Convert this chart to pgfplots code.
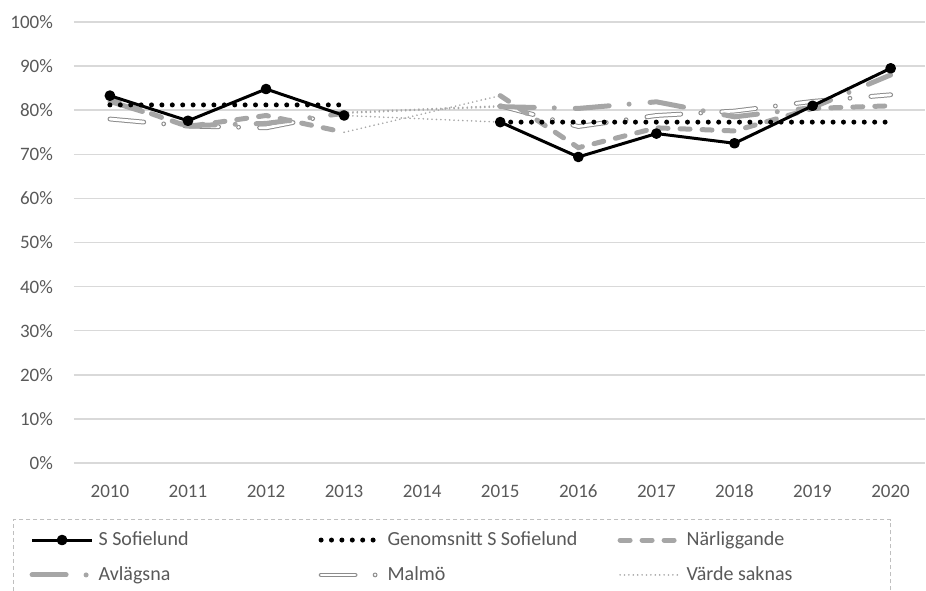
\documentclass[border=0pt]{standalone}
\usepackage{fontspec}
\setmainfont{Carlito}
\usepackage{pgfplots}
\usepackage{pgfplotstable}
\pgfplotsset{compat=1.18}
\definecolor{gridc}{HTML}{D9D9D9}
\definecolor{lg}{HTML}{A6A6A6}
\definecolor{mg}{HTML}{8C8C8C}
\definecolor{txt}{HTML}{595959}
\definecolor{legb}{HTML}{BFBFBF}

\pgfplotstableread{
year sof  gen  nar  avl  mal
2010 83.3 81.2 82.5 82.0 78.0
2011 77.6 81.2 76.3 76.5 76.4
2012 84.8 81.2 78.8 77.0 76.0
2013 78.8 81.2 75.0 79.3 79.5
2014 nan  nan  nan  nan  nan
2015 77.3 77.3 83.3 80.8 81.0
2016 69.4 77.3 71.5 80.4 76.3
2017 74.7 77.3 76.0 81.9 78.8
2018 72.5 77.3 75.3 78.5 79.8
2019 81.0 77.3 80.4 80.6 82.0
2020 89.5 77.3 81.0 88.0 83.5
}\data

\pgfplotstableread{
year sof  nar  avl  mal
2013 78.8 75.0 79.3 79.5
2015 77.3 83.3 80.8 81.0
}\gap

\tikzset{
  sofst/.style={black, line width=1.5pt, solid, line join=round, mark=*, mark size=1.9pt, mark options={solid, fill=black}},
  genst/.style={black, line width=2.5pt, dash pattern=on 0pt off 5.2pt, line cap=round},
  narst/.style={lg, line width=2.5pt, dash pattern=on 5pt off 6pt, line cap=round},
  avlst/.style={lg, line width=2.5pt, dash pattern=on 17pt off 10pt on 0pt off 10.5pt, line cap=round},
  malst/.style={mg, line width=0.5pt, double=white, double distance=1.4pt, dash pattern=on 17pt off 10pt on 0pt off 10.5pt, line cap=round},
  vsst/.style={lg, line width=0.9pt, dash pattern=on 0pt off 2.2pt, line cap=round},
}

\begin{document}
\begin{tikzpicture}
\useasboundingbox (-37pt,-63.5pt) rectangle (426pt,231.5pt);
\begin{axis}[
  at={(0,0)}, anchor=south west,
  scale only axis, width=425.5pt, height=220.5pt,
  xmin=2009.54, xmax=2020.44, ymin=0, ymax=100,
  xtick={2010,...,2020}, ytick={0,10,...,100},
  xticklabels={2010,2011,2012,2013,2014,2015,2016,2017,2018,2019,2020},
  axis line style={draw=none}, major tick length=0pt,
  ymajorgrids, grid style={gridc, line width=0.75pt},
  /pgf/number format/assume math mode=true,
  /pgf/number format/1000 sep={},
  yticklabel={\pgfmathprintnumber{\tick}\%},
  ticklabel style={font=\fontsize{9.5}{11}\selectfont, text=txt},
  yticklabel style={xshift=-7pt},
  xticklabel style={yshift=-6pt, text height=1.6ex, text depth=0pt},
  unbounded coords=jump,
  clip=false,
  legend columns=3,
  legend cell align=left,
  legend image code/.code={\draw[#1] plot coordinates {(0pt,0pt) (15pt,0pt) (30pt,0pt)};},
  legend style={at={(axis description cs:0,0)}, anchor=north west, xshift=-30.5pt, yshift=-28pt,
    draw=legb, line width=0.6pt, dash pattern=on 2pt off 1.5pt, fill=white,
    inner xsep=8pt, inner ysep=4pt, row sep=5pt,
    font=\fontsize{10}{12}\selectfont, text=txt},
]
\addlegendimage{sofst, mark repeat=2, mark phase=2}
\addlegendentry{\makebox[108pt][l]{S Sofielund}}
\addlegendimage{genst}
\addlegendentry{\makebox[113pt][l]{Genomsnitt S Sofielund}}
\addlegendimage{narst}
\addlegendentry{\makebox[92pt][l]{Närliggande}}
\addlegendimage{avlst}
\addlegendentry{\makebox[108pt][l]{Avlägsna}}
\addlegendimage{malst}
\addlegendentry{\makebox[113pt][l]{Malmö}}
\addlegendimage{vsst}
\addlegendentry{\makebox[92pt][l]{Värde saknas}}

% missing-value connectors
\addplot[vsst, forget plot] table[x=year, y=sof] {\gap};
\addplot[vsst, forget plot] table[x=year, y=nar] {\gap};
\addplot[vsst, forget plot] table[x=year, y=avl] {\gap};
\addplot[vsst, forget plot] table[x=year, y=mal] {\gap};

\addplot[malst, forget plot] table[x=year, y=mal] {\data};
\addplot[avlst, forget plot] table[x=year, y=avl] {\data};
\addplot[narst, forget plot] table[x=year, y=nar] {\data};
\addplot[genst, forget plot] table[x=year, y=gen] {\data};
\addplot[sofst, forget plot] table[x=year, y=sof] {\data};
\end{axis}
\end{tikzpicture}
\end{document}
